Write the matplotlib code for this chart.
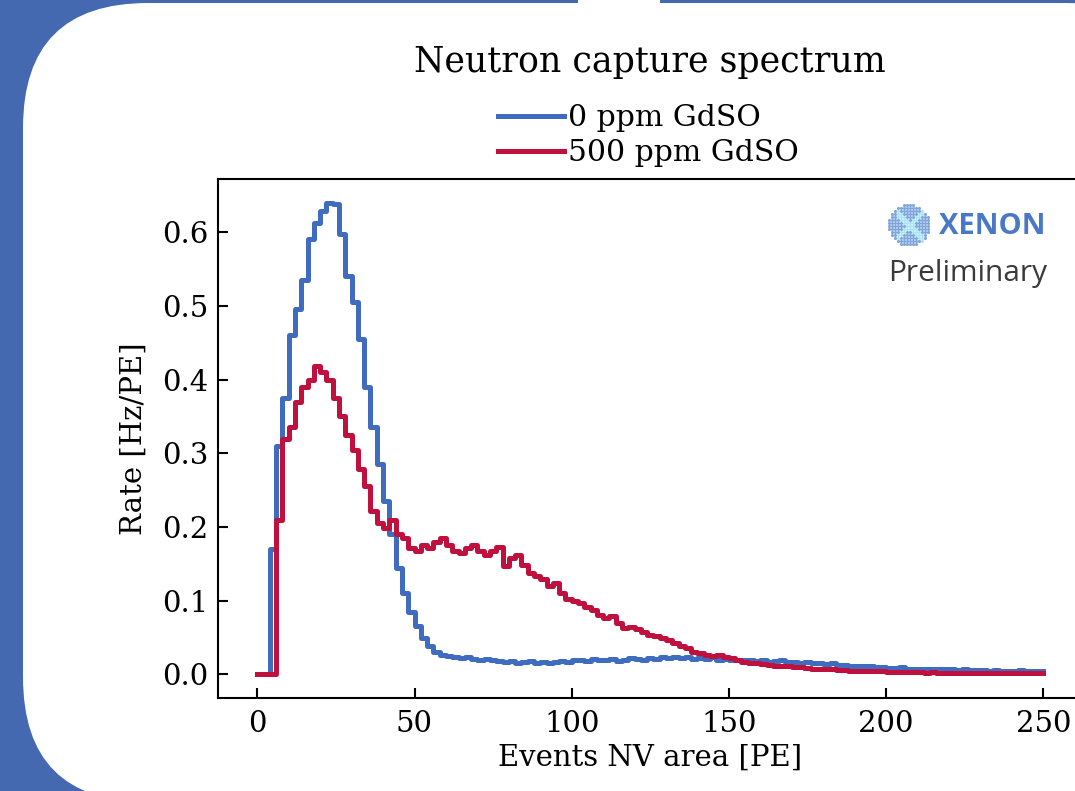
import numpy as np
import matplotlib
matplotlib.use("Agg")
import matplotlib.pyplot as plt
from matplotlib.patches import FancyBboxPatch, Rectangle

# Histogram values, 2 PE wide bins from 0 to 250 PE
bin_edges = np.arange(0, 252, 2)

rate_0ppm = [
    0.0, 0.0, 0.17, 0.31, 0.375, 0.46, 0.495, 0.535, 0.59, 0.612,
    0.628, 0.64, 0.638, 0.598, 0.54, 0.505, 0.455, 0.39, 0.335, 0.285,
    0.235, 0.19, 0.145, 0.11, 0.085, 0.065, 0.05, 0.038, 0.031, 0.027,
    0.025, 0.024, 0.022, 0.023, 0.021, 0.02, 0.021, 0.019, 0.018, 0.017,
    0.018, 0.016, 0.017, 0.018, 0.016, 0.017, 0.015, 0.017, 0.018, 0.017,
    0.019, 0.02, 0.018, 0.021, 0.019, 0.02, 0.021, 0.018, 0.02, 0.022,
    0.021, 0.02, 0.022, 0.021, 0.023, 0.022, 0.024, 0.022, 0.023, 0.021,
    0.022, 0.021, 0.023, 0.02, 0.021, 0.02, 0.019, 0.02, 0.019, 0.018,
    0.019, 0.017, 0.018, 0.019, 0.017, 0.017, 0.016, 0.017, 0.015, 0.016,
    0.014, 0.015, 0.013, 0.013, 0.012, 0.012, 0.011, 0.011, 0.010, 0.010,
    0.009, 0.009, 0.010, 0.008, 0.008, 0.008, 0.007, 0.008, 0.007, 0.007,
    0.007, 0.006, 0.007, 0.006, 0.006, 0.006, 0.005, 0.006, 0.005, 0.005,
    0.005, 0.006, 0.005, 0.004, 0.004,
]

rate_500ppm = [
    0.0, 0.0, 0.0, 0.21, 0.32, 0.335, 0.37, 0.39, 0.40, 0.418,
    0.41, 0.40, 0.375, 0.35, 0.325, 0.305, 0.278, 0.255, 0.222, 0.205,
    0.198, 0.21, 0.19, 0.185, 0.172, 0.168, 0.176, 0.172, 0.18, 0.185,
    0.176, 0.168, 0.165, 0.172, 0.176, 0.168, 0.162, 0.168, 0.173, 0.147,
    0.158, 0.162, 0.148, 0.138, 0.134, 0.129, 0.12, 0.124, 0.11, 0.102,
    0.10, 0.097, 0.092, 0.088, 0.08, 0.077, 0.079, 0.07, 0.063, 0.064,
    0.061, 0.058, 0.054, 0.052, 0.049, 0.046, 0.042, 0.038, 0.036, 0.031,
    0.029, 0.027, 0.025, 0.026, 0.023, 0.022, 0.019, 0.017, 0.015, 0.016,
    0.014, 0.013, 0.012, 0.012, 0.011, 0.010, 0.010, 0.009, 0.008, 0.008,
    0.007, 0.007, 0.006, 0.006, 0.005, 0.005, 0.005, 0.004, 0.004, 0.004,
    0.003, 0.003, 0.003, 0.003, 0.003, 0.003, 0.002, 0.003, 0.002, 0.002,
    0.002, 0.002, 0.002, 0.002, 0.002, 0.002, 0.002, 0.002, 0.002, 0.002,
    0.002, 0.002, 0.002, 0.002, 0.002,
]

x_ticks = [0, 50, 100, 150, 200, 250]
y_ticks = [0.0, 0.1, 0.2, 0.3, 0.4, 0.5, 0.6]

BLUE = "#3f6cbf"
RED = "#c0103e"
SLIDE_BLUE = "#4469b1"

W, H = 1075, 791
fig = plt.figure(figsize=(W / 100, H / 100), dpi=100)
fig.patch.set_facecolor(SLIDE_BLUE)

# slide background drawn in pixel coordinates
bg = fig.add_axes([0, 0, 1, 1], zorder=0)
bg.set_xlim(0, W)
bg.set_ylim(H, 0)
bg.axis("off")
bg.add_patch(FancyBboxPatch((23 + 125, 3 + 125), 1190 - 23 - 250, 802 - 3 - 250,
                            boxstyle="round,pad=125", facecolor="white",
                            edgecolor="none"))
bg.add_patch(Rectangle((578, 0), 82, 4, facecolor="white", edgecolor="none"))

# XENON logo: dotted disc
gx, gy = np.meshgrid(np.arange(-20, 21, 3.0), np.arange(-20, 21, 3.0))
gx, gy = gx.ravel(), gy.ravel()
inside = gx**2 + gy**2 <= 21**2
gx, gy = gx[inside], gy[inside]
on_x = (np.abs(np.abs(gx) - np.abs(gy)) < 3.5) & (np.abs(gx) < 14)
bg.scatter(909 + gx[~on_x], 225 + gy[~on_x], s=5, color="#7ea6dc", lw=0, zorder=3)
bg.scatter(909 + gx[on_x], 225 + gy[on_x], s=5, color="#a8e4f2", lw=0, zorder=3)
bg.text(939, 226, "XENON", fontsize=21, fontweight="bold", color="#4a78c8",
        family="Open Sans", va="center", ha="left", zorder=3)
bg.text(1047, 274, "Preliminary", fontsize=21.5, color="#3a3a3a",
        family="Open Sans", va="center", ha="right", zorder=3)

# main axes, right edge runs off the slide crop
left, top, bottom = 218, 179, 698
width = 864.6
ax = fig.add_axes([left / W, (H - bottom) / H, width / W, (bottom - top) / H], zorder=1)
ax.patch.set_alpha(0)

ax.plot(bin_edges, np.append(rate_0ppm, rate_0ppm[-1]), drawstyle="steps-post",
        color=BLUE, lw=3.6, label="0 ppm GdSO")
ax.plot(bin_edges, np.append(rate_500ppm, rate_500ppm[-1]), drawstyle="steps-post",
        color=RED, lw=3.6, label="500 ppm GdSO")

ax.set_xlim(-12.5, 262.5)
ax.set_ylim(-0.032, 0.672)
ax.set_xticks(x_ticks)
ax.set_yticks(y_ticks)
ax.set_yticklabels([f"{v:.1f}" for v in y_ticks])
ax.tick_params(direction="in", length=7, width=1.5, labelsize=21, pad=7)
ax.tick_params(axis="x", pad=9)
for lab in ax.get_xticklabels() + ax.get_yticklabels():
    lab.set_family("DejaVu Serif")
for s in ax.spines.values():
    s.set_linewidth(1.5)

ax.set_xlabel("Events NV area [PE]", fontsize=21, family="DejaVu Serif", labelpad=4)
ax.set_ylabel("Rate [Hz/PE]", fontsize=21, family="DejaVu Serif", labelpad=10)

leg = ax.legend(loc="lower center", bbox_to_anchor=(0.498, 1.0), frameon=False,
                prop={"family": "DejaVu Serif", "size": 21.5},
                handlelength=2.2, handletextpad=0.15, labelspacing=0.22,
                borderaxespad=0.0)

fig.text(650 / W, 1 - 62 / H, "Neutron capture spectrum", fontsize=25,
         family="DejaVu Serif", ha="center", va="center")

fig.savefig("out.png", dpi=100, facecolor=fig.get_facecolor())
